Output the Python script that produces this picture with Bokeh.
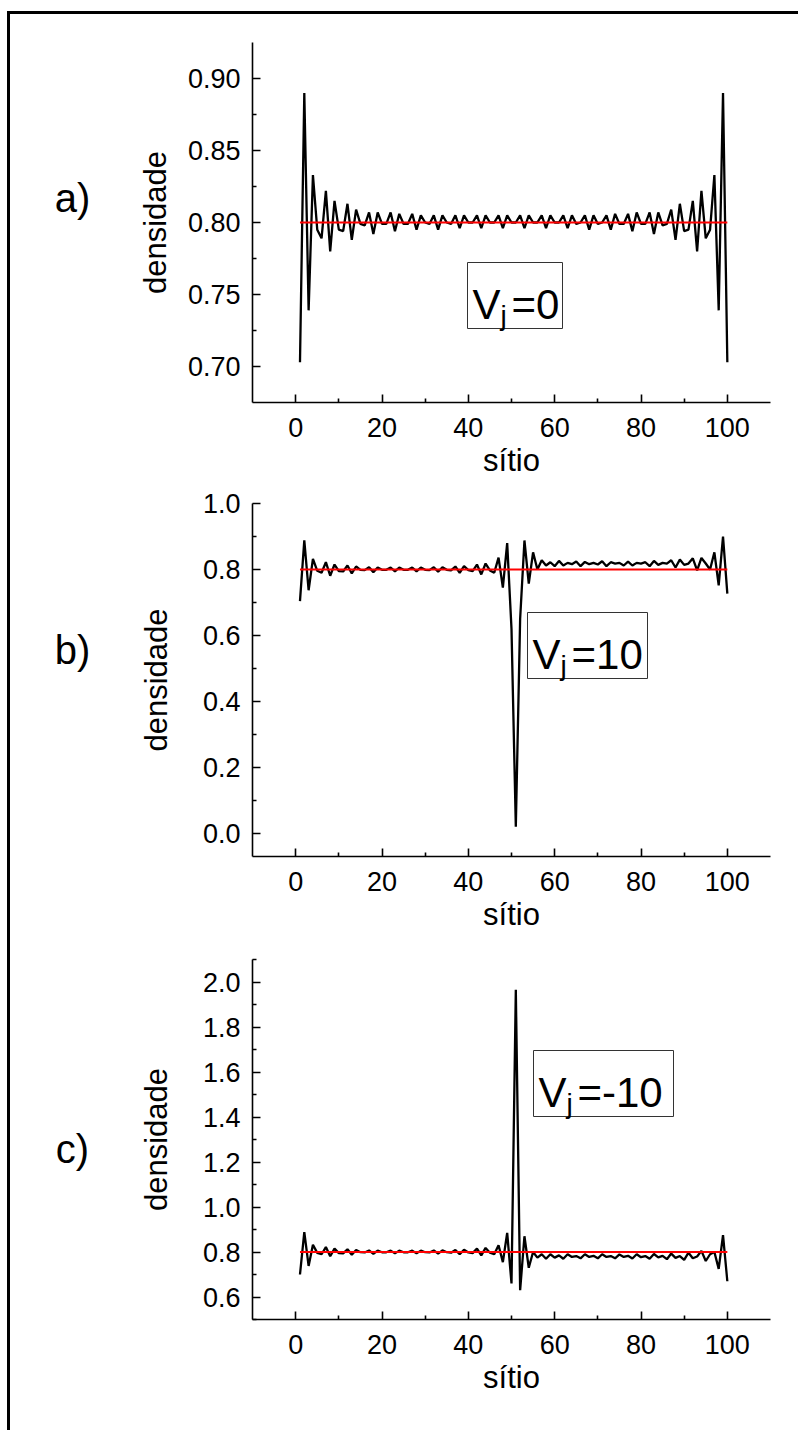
from bokeh.plotting import figure
from bokeh.layouts import column, row
from bokeh.models import Range1d, FixedTicker, Label, BoxAnnotation
from bokeh.core.properties import value
from bokeh.embed import file_html
from bokeh.resources import INLINE

# ---------------- data ----------------
sites = list(range(1, 101))

dens_a = [
    0.703, 0.890, 0.739, 0.833, 0.795, 0.789, 0.822, 0.780, 0.815, 0.795,
    0.794, 0.813, 0.788, 0.809, 0.799, 0.798, 0.807, 0.792, 0.807, 0.799,
    0.799, 0.807, 0.794, 0.806, 0.799, 0.799, 0.806, 0.795, 0.805, 0.800,
    0.799, 0.805, 0.795, 0.805, 0.800, 0.799, 0.805, 0.796, 0.805, 0.800,
    0.800, 0.805, 0.796, 0.805, 0.800, 0.800, 0.805, 0.796, 0.805, 0.800,
    0.800, 0.805, 0.796, 0.805, 0.800, 0.800, 0.805, 0.796, 0.805, 0.800,
    0.800, 0.805, 0.796, 0.805, 0.799, 0.800, 0.805, 0.795, 0.805, 0.799,
    0.800, 0.805, 0.795, 0.806, 0.799, 0.799, 0.806, 0.794, 0.807, 0.799,
    0.799, 0.807, 0.792, 0.807, 0.798, 0.799, 0.809, 0.788, 0.813, 0.794,
    0.795, 0.815, 0.780, 0.822, 0.789, 0.795, 0.833, 0.739, 0.890, 0.703,
]

dens_b = [
    0.704, 0.888, 0.737, 0.832, 0.796, 0.790, 0.822, 0.781, 0.815, 0.795,
    0.794, 0.812, 0.788, 0.809, 0.799, 0.798, 0.807, 0.792, 0.806, 0.799,
    0.799, 0.806, 0.794, 0.806, 0.799, 0.799, 0.806, 0.794, 0.806, 0.799,
    0.798, 0.807, 0.793, 0.807, 0.799, 0.797, 0.809, 0.790, 0.810, 0.798,
    0.795, 0.815, 0.785, 0.818, 0.797, 0.790, 0.836, 0.745, 0.880, 0.620,
    0.020, 0.650, 0.888, 0.757, 0.852, 0.800, 0.828, 0.812, 0.822, 0.810,
    0.826, 0.812, 0.820, 0.816, 0.824, 0.810, 0.823, 0.816, 0.820, 0.815,
    0.825, 0.810, 0.822, 0.818, 0.820, 0.812, 0.824, 0.812, 0.820, 0.818,
    0.822, 0.810, 0.826, 0.814, 0.820, 0.818, 0.828, 0.806, 0.830, 0.814,
    0.818, 0.834, 0.797, 0.835, 0.818, 0.800, 0.852, 0.752, 0.900, 0.727,
]

dens_c = [
    0.700, 0.888, 0.738, 0.832, 0.796, 0.790, 0.822, 0.781, 0.815, 0.795,
    0.794, 0.812, 0.788, 0.809, 0.799, 0.798, 0.807, 0.792, 0.806, 0.799,
    0.799, 0.806, 0.794, 0.806, 0.799, 0.799, 0.806, 0.794, 0.806, 0.799,
    0.798, 0.807, 0.793, 0.807, 0.799, 0.797, 0.809, 0.790, 0.810, 0.798,
    0.795, 0.815, 0.785, 0.818, 0.797, 0.790, 0.830, 0.755, 0.885, 0.660,
    1.965, 0.630, 0.870, 0.730, 0.800, 0.775, 0.790, 0.770, 0.790, 0.775,
    0.785, 0.770, 0.790, 0.778, 0.782, 0.772, 0.790, 0.778, 0.783, 0.772,
    0.790, 0.778, 0.782, 0.772, 0.789, 0.778, 0.783, 0.771, 0.790, 0.777,
    0.782, 0.770, 0.791, 0.776, 0.783, 0.768, 0.793, 0.774, 0.782, 0.765,
    0.797, 0.772, 0.780, 0.805, 0.760, 0.790, 0.800, 0.725, 0.875, 0.670,
]

ref_x = [1, 100]
ref_y = [0.8, 0.8]

x_ticks = [0, 20, 40, 60, 80, 100]
x_tick_labels = ["0", "20", "40", "60", "80", "100"]
x_minor = [10, 30, 50, 70, 90]

a_yticks = [0.70, 0.75, 0.80, 0.85, 0.90]
a_ylabels = ["0.70", "0.75", "0.80", "0.85", "0.90"]
a_yminor = [0.725, 0.775, 0.825, 0.875]

b_yticks = [0.0, 0.2, 0.4, 0.6, 0.8, 1.0]
b_ylabels = ["0.0", "0.2", "0.4", "0.6", "0.8", "1.0"]
b_yminor = [0.1, 0.3, 0.5, 0.7, 0.9]

c_yticks = [0.6, 0.8, 1.0, 1.2, 1.4, 1.6, 1.8, 2.0]
c_ylabels = ["0.6", "0.8", "1.0", "1.2", "1.4", "1.6", "1.8", "2.0"]
c_yminor = [0.5, 0.7, 0.9, 1.1, 1.3, 1.5, 1.7, 1.9, 2.1]

panel_tags = ["a)", "b)", "c)"]
box_values = ["0", "10", "-10"]

FONT = "Liberation Sans"

# ---------------- geometry (page pixels) ----------------
OX, OY = 10, 14          # content origin inside the frame border
TAGW = 120               # width of the strip holding the panel tags
FL, FR = 252, 770        # plot frame left / right on the page
XR = (-10, 110)


def make_tag(height, fig_top, tag, tag_py):
    t = figure(width=TAGW, height=height, x_range=Range1d(0, TAGW),
               y_range=Range1d(height, 0), output_backend="svg",
               toolbar_location=None, x_axis_location=None, y_axis_location=None,
               min_border=0)
    t.outline_line_color = None
    t.xgrid.visible = False
    t.ygrid.visible = False
    t.text(x=[72 - OX], y=[tag_py - fig_top], text=[tag], text_font=value(FONT),
           text_font_size="40px", text_align="center", text_baseline="middle",
           text_color="black")
    return t


def make_panel(height, top, bottom, frame_top, frame_bottom, yr, yticks, ylabels, yminor,
               dens, box_px, box_val, ylab_standoff):
    p = figure(width=798 - OX - TAGW, height=height,
               x_range=Range1d(*XR), y_range=Range1d(*yr),
               output_backend="svg", toolbar_location=None,
               min_border_left=FL - OX - TAGW, min_border_right=798 - FR,
               min_border_top=top, min_border_bottom=bottom)
    p.outline_line_color = None
    p.xgrid.visible = False
    p.ygrid.visible = False

    p.line(sites, dens, line_color="black", line_width=2.3)
    p.line(ref_x, ref_y, line_color="#ff0000", line_width=2)

    p.xaxis.ticker = FixedTicker(ticks=x_ticks, minor_ticks=x_minor)
    p.xaxis.major_label_overrides = dict(zip(x_ticks, x_tick_labels))
    p.yaxis.ticker = FixedTicker(ticks=yticks, minor_ticks=yminor)
    p.yaxis.major_label_overrides = dict(zip(yticks, ylabels))

    for ax in (p.xaxis[0], p.yaxis[0]):
        ax.axis_line_width = 1.6
        ax.major_tick_line_width = 1.6
        ax.minor_tick_line_width = 1.6
        ax.major_tick_in = 8
        ax.major_tick_out = 0
        ax.minor_tick_in = 4
        ax.minor_tick_out = 0
        ax.major_label_text_font = FONT
        ax.major_label_text_font_size = "27px"
        ax.major_label_text_color = "black"
        ax.axis_label_text_font = FONT
        ax.axis_label_text_font_size = "31px"
        ax.axis_label_text_font_style = "normal"
        ax.axis_label_text_color = "black"
    p.xaxis.axis_label = "sítio"
    p.yaxis.axis_label = "densidade"
    p.xaxis.major_label_standoff = 15
    p.xaxis.axis_label_standoff = 3
    p.yaxis.major_label_standoff = 12
    p.yaxis.axis_label_standoff = ylab_standoff

    ymin, ymax = yr

    def dx(px):
        return XR[0] + (px - FL) / (FR - FL) * (XR[1] - XR[0])

    def dy(py):
        return ymax - (py - frame_top) / (frame_bottom - frame_top) * (ymax - ymin)

    # boxed V_j annotation
    bl, bt, br = box_px
    bb = bt + 66
    p.add_layout(BoxAnnotation(left=dx(bl), right=dx(br), top=dy(bt), bottom=dy(bb),
                               fill_alpha=0, line_color="#333333", line_width=1,
                               line_alpha=1))
    p.add_layout(Label(x=dx(bl + 5), y=dy(bt + 42), text="V", text_font=FONT,
                       text_font_size="42px", text_baseline="alphabetic",
                       text_align="left", text_color="black"))
    p.add_layout(Label(x=dx(bl + 33), y=dy(bt + 53), text="j", text_font=FONT,
                       text_font_size="28px", text_baseline="alphabetic",
                       text_align="left", text_color="black"))
    p.add_layout(Label(x=dx(bl + 44), y=dy(bt + 42), text="=" + box_val, text_font=FONT,
                       text_font_size="42px", text_baseline="alphabetic",
                       text_align="left", text_color="black"))
    return p


HA, HB, HC = 480 - OY, 454, 496
TA, TB, TC = OY, 480, 934   # page y where each panel row starts

pa = make_panel(HA, 42 - TA, 78, 42, 402, (0.675, 0.925),
                a_yticks, a_ylabels, a_yminor, dens_a, (467, 262, 562), box_values[0], 12)
pb = make_panel(HB, 503 - TB, 78, 503, 856, (-0.07, 1.0),
                b_yticks, b_ylabels, b_yminor, dens_b, (527, 612, 647), box_values[1], 26)
pc = make_panel(HC, 959 - TC, 111, 959, 1319, (0.5, 2.1),
                c_yticks, c_ylabels, c_yminor, dens_c, (533, 1050, 673), box_values[2], 26)

ta = make_tag(HA, TA, panel_tags[0], 215)
tb = make_tag(HB, TB, panel_tags[1], 668)
tc = make_tag(HC, TC, panel_tags[2], 1195)

layout = column(row(ta, pa, spacing=0), row(tb, pb, spacing=0), row(tc, pc, spacing=0),
                spacing=0,
                styles={"border-top": "3px solid black",
                        "border-left": "3px solid black",
                        "margin-left": "7px",
                        "margin-top": "11px",
                        "background-color": "white"})

open("out.html", "w").write(file_html(layout, INLINE))
